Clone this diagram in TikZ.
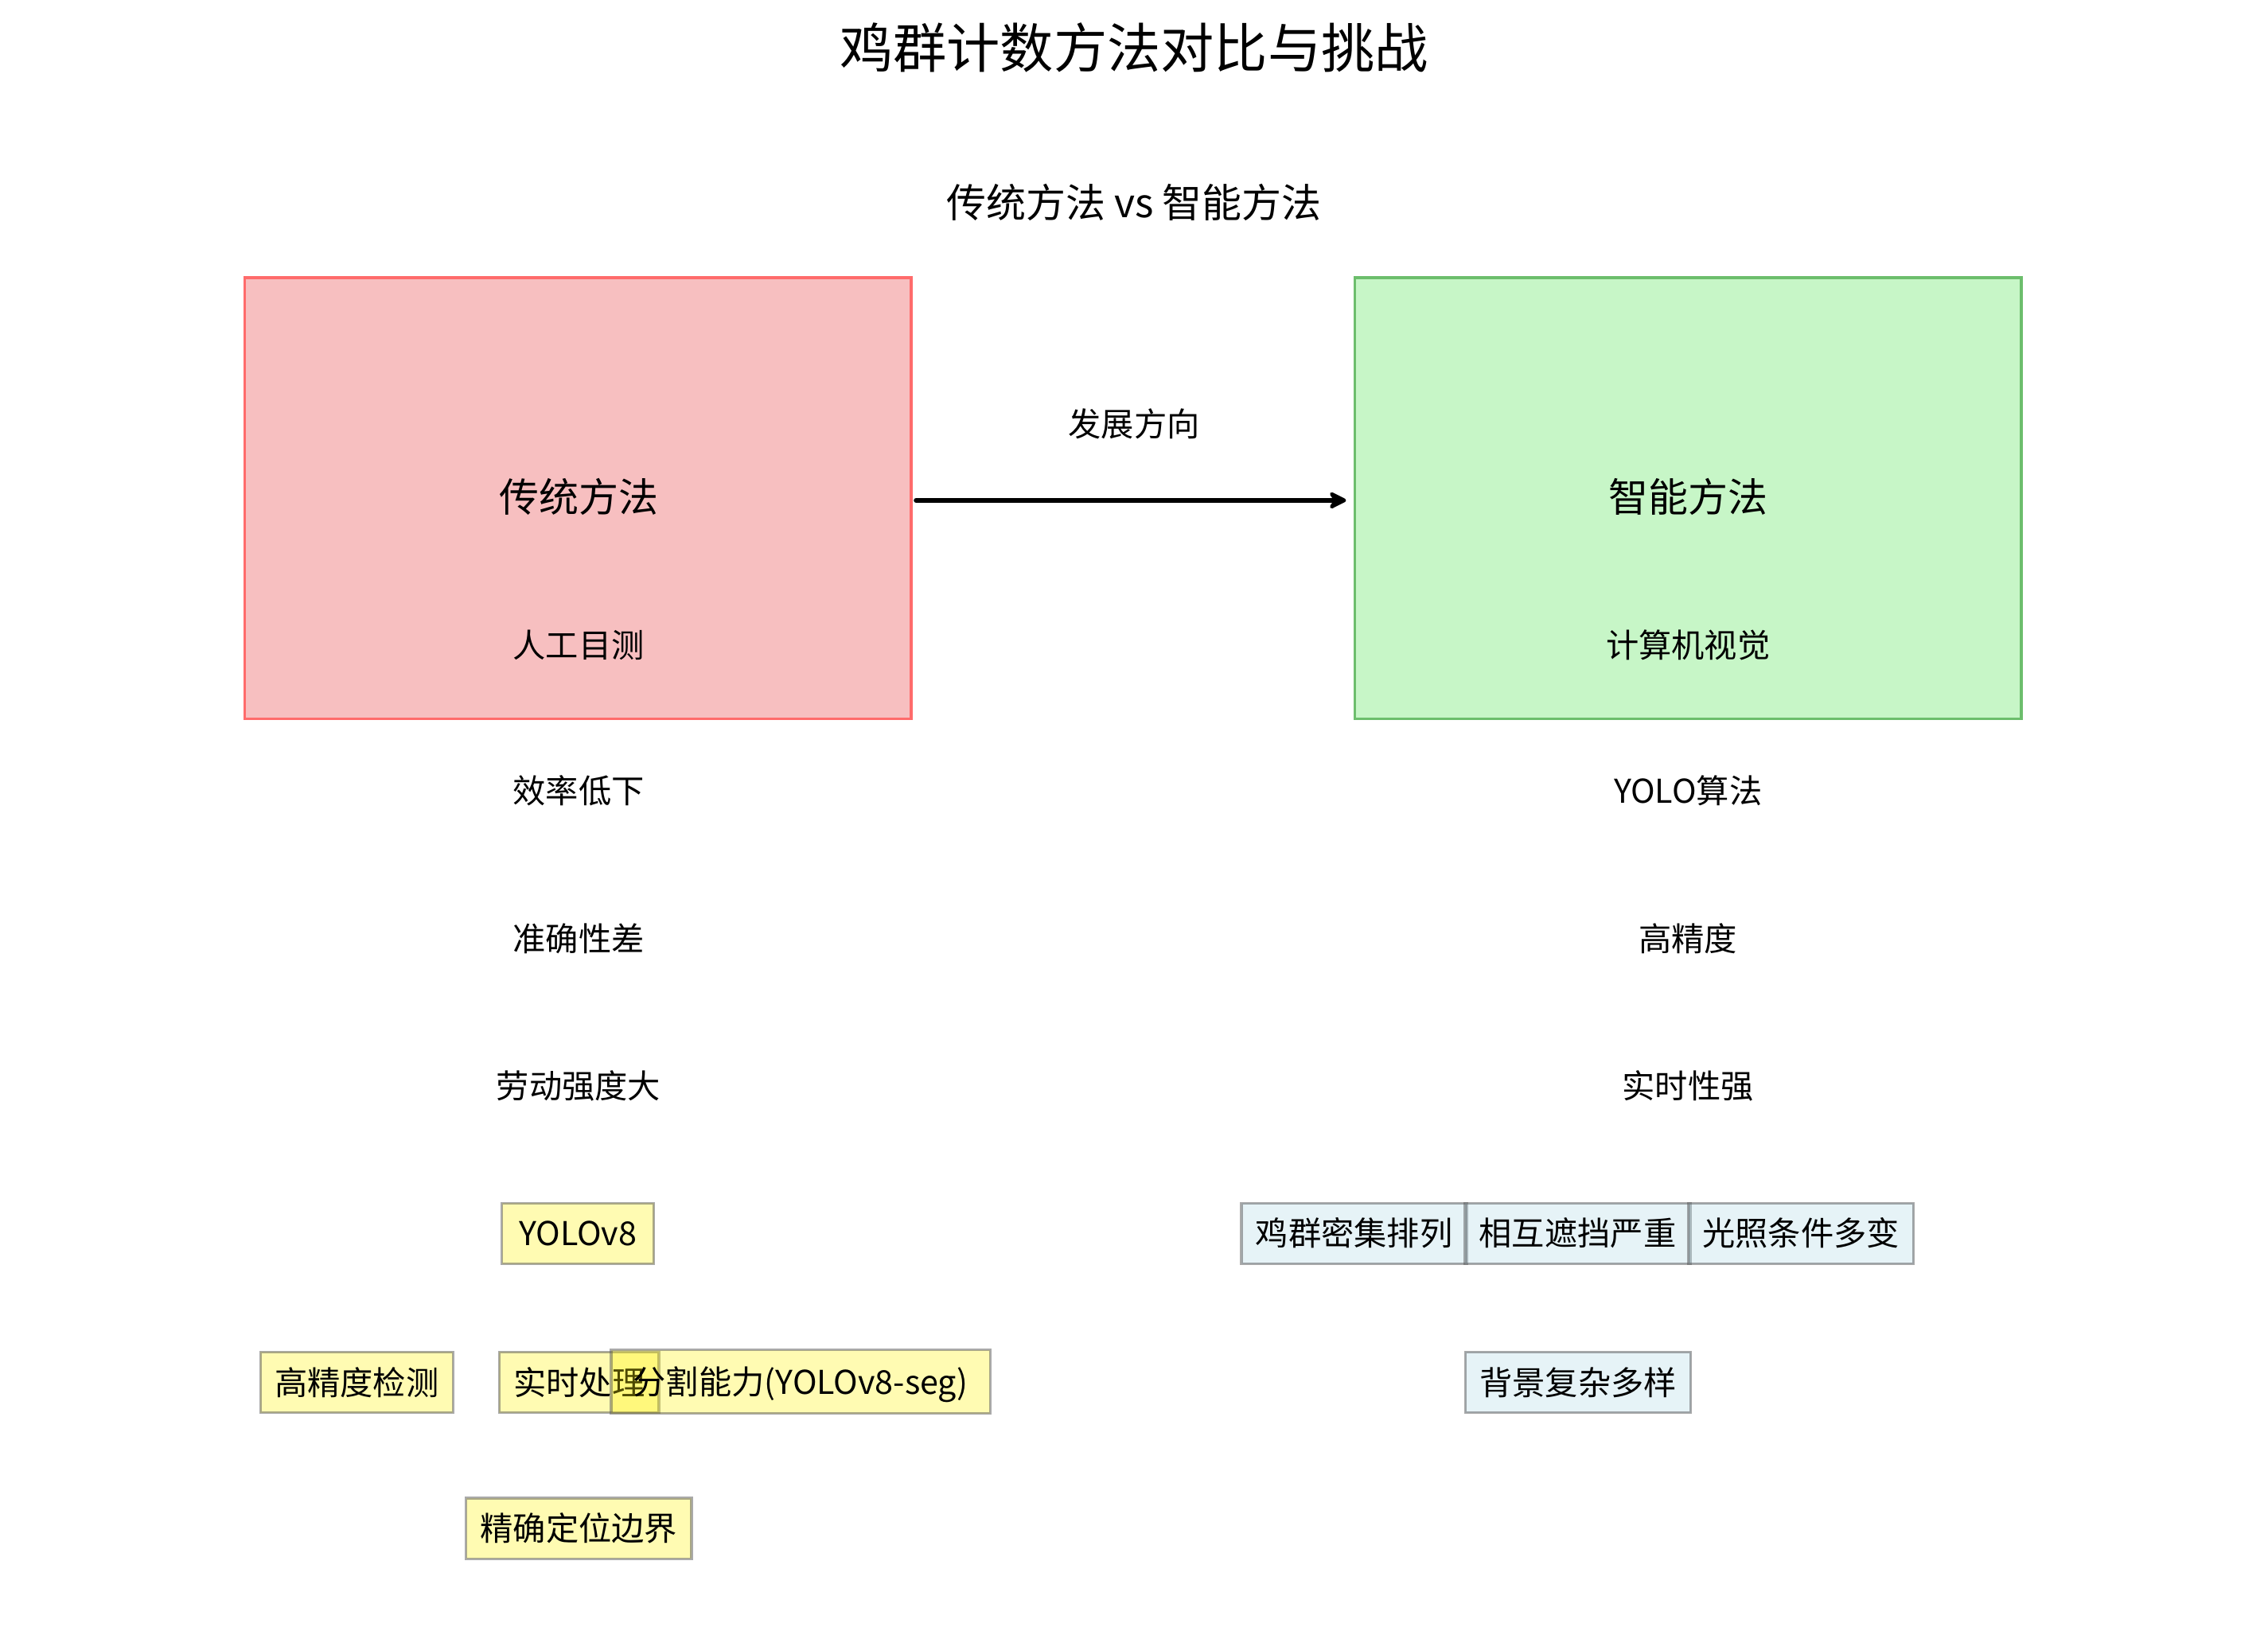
\documentclass[tikz,border=0pt]{standalone}
\usepackage{fontspec}
\setmainfont{Noto Sans CJK SC}
\usetikzlibrary{arrows.meta}
\definecolor{redfill}{RGB}{247,191,192}
\definecolor{reddraw}{RGB}{255,107,107}
\definecolor{greenfill}{RGB}{199,246,199}
\definecolor{greendraw}{RGB}{108,190,108}
\definecolor{lightblueX}{RGB}{173,216,230}
\definecolor{borderX}{RGB}{85,85,85}
\begin{document}
\begin{tikzpicture}[x=1pt,y=-1pt,
  base/.style={inner sep=0pt, anchor=center},
  titletext/.style={base, font=\fontsize{37}{44}\selectfont, text height=31.5pt, text depth=3.7pt},
  subtext/.style={base, font=\fontsize{27.5}{33}\selectfont, text height=23.4pt, text depth=2.8pt},
  itemtext/.style={base, font=\fontsize{22.7}{27}\selectfont, text height=19.3pt, text depth=2.3pt},
  bigbox/.style={draw, line width=1.8pt, minimum width=461pt, minimum height=305pt, inner sep=0pt},
  tagbox/.style={itemtext, draw=borderX, draw opacity=0.5, line width=1.8pt, inner xsep=9.8pt, minimum height=42pt},
  yellowbox/.style={tagbox, fill=yellow, fill opacity=0.3, text opacity=1},
  bluebox/.style={tagbox, fill=lightblueX, fill opacity=0.3, text opacity=1},
  flow/.style={line width=3.4pt, line cap=round, -{Stealth[length=15pt,width=15pt,inset=5pt,round]}}
]
\useasboundingbox (0,0) rectangle (1568,1124.6);

% title and subtitle
\node[titletext] (title) at (784,33) {鸡群计数方法对比与挑战};
\node[subtext] (subtitle) at (784,140) {传统方法 vs 智能方法};

% big boxes
\node[bigbox, draw=reddraw, fill=redfill] (trad) at (399.5,344.5) {};
\node[bigbox, draw=greendraw, fill=greenfill] (smart) at (1167,344.5) {};

\node[subtext] (tradtitle) at (400,344) {传统方法};
\node[subtext] (smarttitle) at (1167,344) {智能方法};

% arrow
\draw[flow, shorten <=2.5pt, shorten >=5pt] ([yshift=-1.5pt]trad.east) -- ([yshift=-1.5pt]smart.west);
\node[itemtext] (dir) at (784,293) {发展方向};

% left column
\node[itemtext] (l1) at (400,446) {人工目测};
\node[itemtext] (l2) at (400,547) {效率低下};
\node[itemtext] (l3) at (400,649) {准确性差};
\node[itemtext] (l4) at (400,751) {劳动强度大};

% right column
\node[itemtext] (r1) at (1167,446) {计算机视觉};
\node[itemtext] (r2) at (1167,547) {YOLO算法};
\node[itemtext] (r3) at (1167,649) {高精度};
\node[itemtext] (r4) at (1167,751) {实时性强};

% yellow boxes
\node[yellowbox, minimum width=105pt] (y1) at (399.5,853) {YOLOv8};
\node[yellowbox] (y2) at (246.6,956) {高精度检测};
\node[yellowbox] (y3) at (400.4,956) {实时处理};
\node[yellowbox, minimum height=44pt, minimum width=262pt] (y4) at (553.6,955.5) {分割能力(YOLOv8-seg)};
\node[yellowbox] (y5) at (400.2,1057) {精确定位边界};

% blue boxes
\node[bluebox] (b1) at (936.2,853) {鸡群密集排列};
\node[bluebox] (b2) at (1090.7,853) {相互遮挡严重};
\node[bluebox] (b3) at (1245.1,853) {光照条件多变};
\node[bluebox] (b4) at (1091,956) {背景复杂多样};
\end{tikzpicture}
\end{document}
